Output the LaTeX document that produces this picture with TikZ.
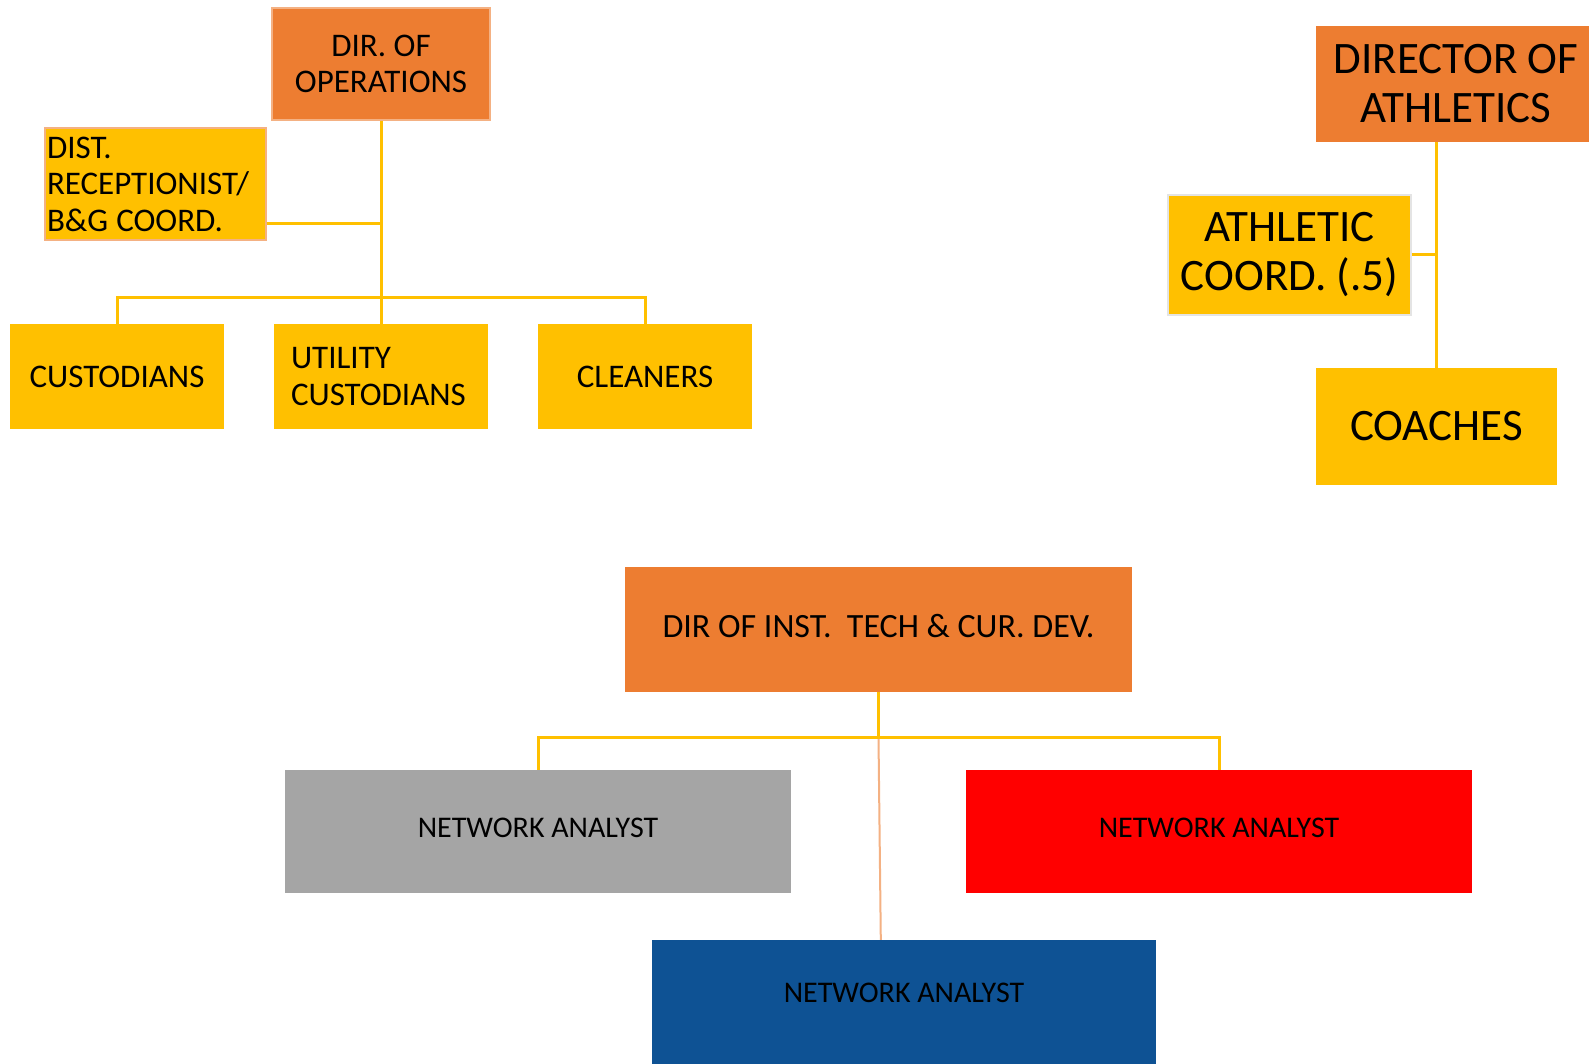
\documentclass[tikz,border=0pt]{standalone}
\usepackage{fontspec}
\setmainfont{Carlito}
\usetikzlibrary{calc}
\definecolor{orgA}{HTML}{ED7D31}
\definecolor{orgB}{HTML}{F4B183}
\definecolor{yelA}{HTML}{FFC000}
\definecolor{grayA}{HTML}{A5A5A5}
\definecolor{redA}{HTML}{FF0000}
\definecolor{blueA}{RGB}{14,82,148}
\definecolor{shadeA}{HTML}{E4E4E4}
\begin{document}
\begin{tikzpicture}[x=1pt,y=-1pt,
  base/.style={inner sep=0pt, align=center, text=black},
  obox/.style={base, fill=orgA},
  ybox/.style={base, fill=yelA},
  fsmall/.style={font=\fontsize{33}{36.5}\selectfont},
  fbig/.style={font=\fontsize{45}{49}\selectfont},
  fit/.style={font=\fontsize{34}{40}\selectfont},
  fna/.style={font=\fontsize{30}{36}\selectfont},
  conn/.style={draw=yelA, line width=3pt},
  peach/.style={draw=orgB, line width=2pt}]
\clip (0,0) rectangle (1589,1064);
\fill[white] (0,0) rectangle (1589,1064);

% --- Operations group ---
\node[obox, fsmall, draw=orgB, line width=1.5pt, minimum width=218, minimum height=112] (ops) at (381,64) {DIR. OF\\OPERATIONS};
\node[ybox, fsmall, draw=orgB, line width=1.2pt, minimum width=221, minimum height=112, text width=217, align=left, inner xsep=2pt] (dist) at (155.5,184) {\frenchspacing DIST.\\RECEPTIONIST/\\B\&G\hspace{-3pt} COORD.};
\node[ybox, fsmall, minimum width=214, minimum height=105] (cust) at (117,376.5) {CUSTODIANS};
\node[ybox, fsmall, minimum width=214, minimum height=105, text width=180, align=left, inner xsep=17pt] (util) at (381,376.5) {UTILITY\\CUSTODIANS};
\node[ybox, fsmall, minimum width=214, minimum height=105] (clean) at (645,376.5) {CLEANERS};

\draw[conn] (ops.south) -- (util.north);
\draw[conn] (dist.east |- 0,224) -- (ops.south |- 0,224);
\draw[conn] (cust.north) -- ++(0,-26) -| (clean.north);

% --- Athletics group ---
\node[obox, fbig, minimum width=280, minimum height=116] (athdir) at (1456,84) {DIRECTOR OF\\ATHLETICS};
\node[ybox, fbig, draw=shadeA, line width=1.5pt, minimum width=243, minimum height=120] (athc) at (1289.5,255) {ATHLETIC\\COORD. (.5)};
\node[ybox, fbig, minimum width=241, minimum height=117] (coach) at (1436.5,426.5) {COACHES};

\draw[conn] (coach.north |- athdir.south) -- (coach.north);
\draw[conn] (athc.east) -- (athc.east -| coach.north);

% --- Technology group ---
\node[obox, fit, minimum width=507, minimum height=125] (itdir) at (878.5,629.5) {\raisebox{8pt}{DIR OF INST.\ \ TECH \& CUR. DEV.}};
\node[base, fill=grayA, fna, minimum width=506, minimum height=123] (na1) at (538,831.5) {\raisebox{8pt}{NETWORK ANALYST}};
\node[base, fill=redA, fna, minimum width=506, minimum height=123] (na2) at (1219,831.5) {\raisebox{8pt}{NETWORK ANALYST}};
\node[base, fill=blueA, fna, minimum width=504, minimum height=124] (na3) at (904,1002) {\raisebox{18pt}{NETWORK ANALYST}};

\draw[conn] (itdir.south) -- ++(0,46) coordinate (itj);
\draw[peach] (itj) -- ($(na3.north west)+(229,0)$);
\draw[conn] (na1.north) -- ++(0,-32) -| (na2.north);
\end{tikzpicture}
\end{document}
